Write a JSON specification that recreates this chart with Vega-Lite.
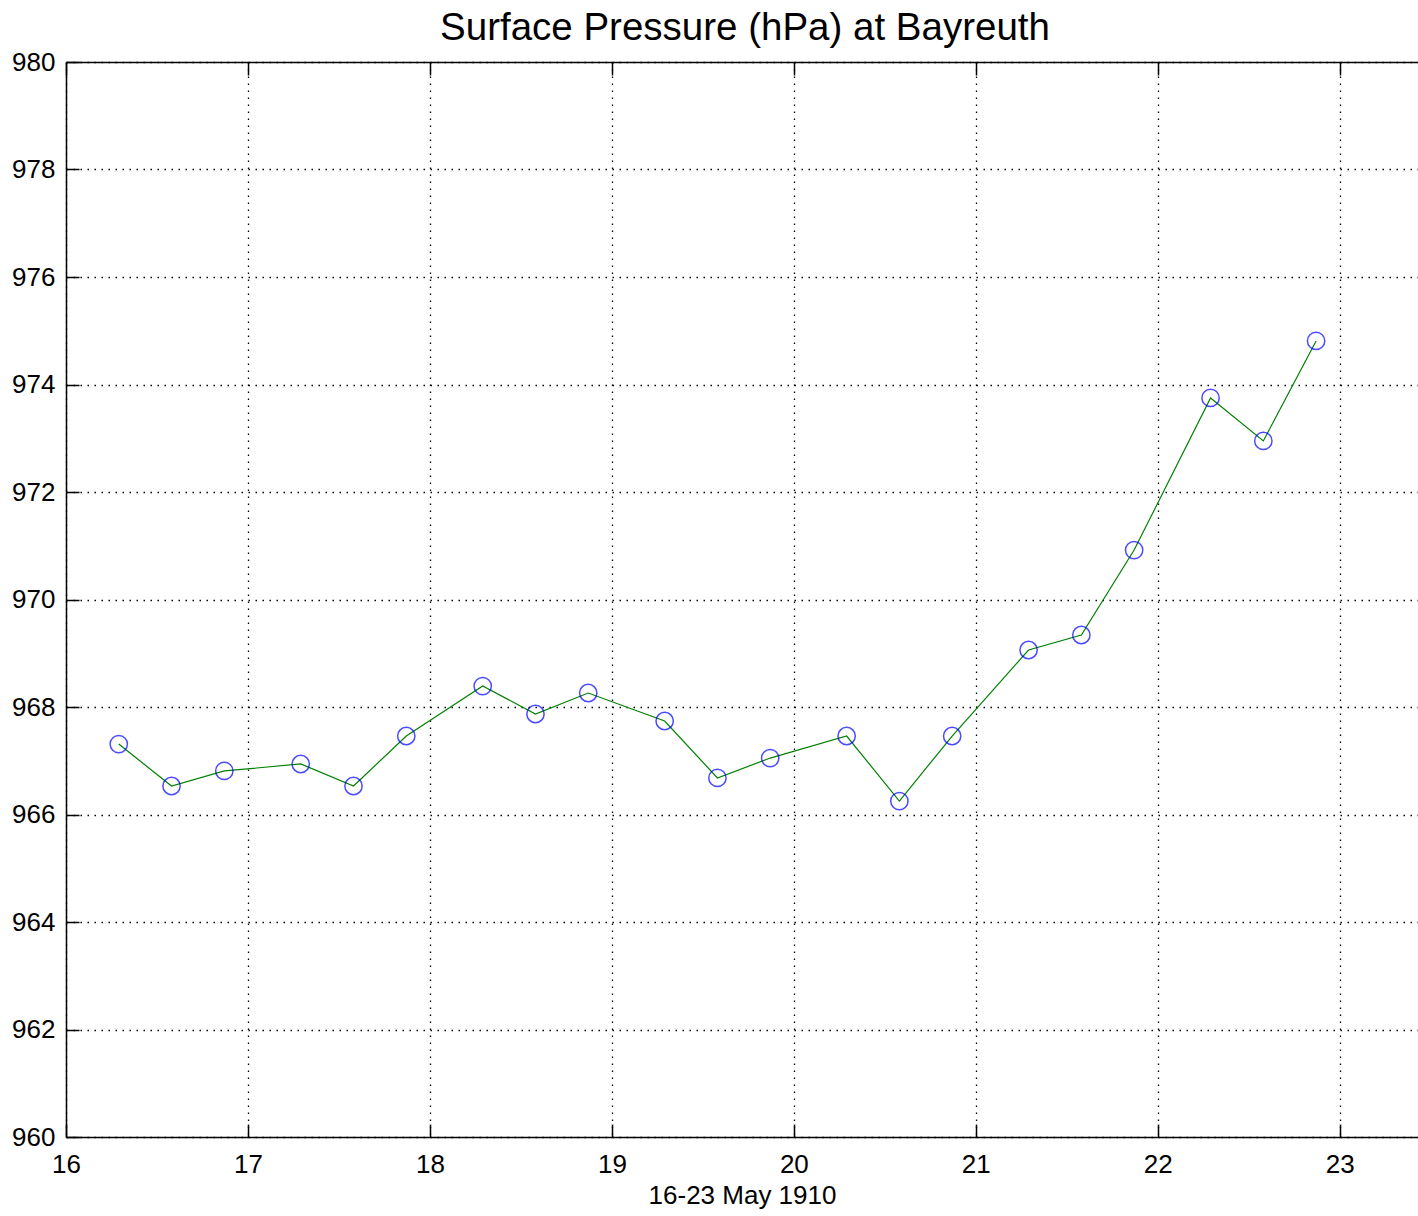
{
  "$schema": "https://vega.github.io/schema/vega-lite/v6.json",
  "autosize": {"type": "none"},
  "padding": {"left": 66, "top": 62, "right": 0, "bottom": 79},
  "width": 1352,
  "height": 1075,
  "background": "white",
  "config": {
    "view": {"stroke": null},
    "font": "Liberation Sans",
    "axis": {
      "labelFont": "Liberation Sans",
      "labelFontSize": 26,
      "labelColor": "black",
      "titleFont": "Liberation Sans",
      "titleFontSize": 26,
      "titleFontWeight": "normal",
      "titleColor": "black",
      "domainColor": "black",
      "domainWidth": 1.5,
      "tickColor": "black",
      "tickWidth": 1.5,
      "tickSize": -13,
      "gridColor": "black",
      "gridDash": [1.5, 5.5],
      "gridWidth": 1.3,
      "gridOpacity": 1
    }
  },
  "title": {
    "text": "Surface Pressure (hPa) at Bayreuth",
    "font": "Liberation Sans",
    "fontSize": 38.5,
    "fontWeight": "normal",
    "color": "black",
    "anchor": "middle",
    "offset": 1,
    "dx": 3
  },
  "data": {
    "values": [
      {"t": 16.29, "p": 967.31},
      {"t": 16.58, "p": 966.53},
      {"t": 16.87, "p": 966.81},
      {"t": 17.29, "p": 966.94},
      {"t": 17.58, "p": 966.53},
      {"t": 17.87, "p": 967.46},
      {"t": 18.29, "p": 968.39},
      {"t": 18.58, "p": 967.87},
      {"t": 18.87, "p": 968.26},
      {"t": 19.29, "p": 967.74},
      {"t": 19.58, "p": 966.68},
      {"t": 19.87, "p": 967.05},
      {"t": 20.29, "p": 967.46},
      {"t": 20.58, "p": 966.25},
      {"t": 20.87, "p": 967.46},
      {"t": 21.29, "p": 969.06},
      {"t": 21.58, "p": 969.34},
      {"t": 21.87, "p": 970.92},
      {"t": 22.29, "p": 973.75},
      {"t": 22.58, "p": 972.95},
      {"t": 22.87, "p": 974.81}
    ]
  },
  "resolve": {"axis": {"x": "independent"}},
  "layer": [
    {
      "mark": {"type": "line", "color": "#008000", "strokeWidth": 1.2},
      "encoding": {
        "x": {
          "field": "t", "type": "quantitative",
          "scale": {"domain": [16, 23.43], "nice": false, "zero": false},
          "axis": {
            "orient": "bottom",
            "values": [16, 17, 18, 19, 20, 21, 22, 23],
            "title": "16-23 May 1910",
            "titlePadding": 5,
            "labelPadding": 27,
            "grid": true,
            "labelFlush": false
          }
        },
        "y": {
          "field": "p", "type": "quantitative",
          "scale": {"domain": [960, 980], "nice": false, "zero": false},
          "axis": {
            "values": [960, 962, 964, 966, 968, 970, 972, 974, 976, 978, 980],
            "title": null,
            "labelPadding": 24,
            "grid": true,
            "labelFlush": false
          }
        }
      }
    },
    {
      "mark": {"type": "point", "shape": "circle", "filled": false, "color": "#0000ff", "size": 300, "strokeWidth": 1.5},
      "encoding": {
        "x": {"field": "t", "type": "quantitative", "axis": null},
        "y": {"field": "p", "type": "quantitative"}
      }
    },
    {
      "mark": {"type": "point", "opacity": 0},
      "encoding": {
        "x": {
          "field": "t", "type": "quantitative",
          "axis": {
            "orient": "top",
            "values": [16, 17, 18, 19, 20, 21, 22, 23],
            "labels": false,
            "title": null,
            "grid": false
          }
        },
        "y": {"field": "p", "type": "quantitative"}
      }
    }
  ]
}
